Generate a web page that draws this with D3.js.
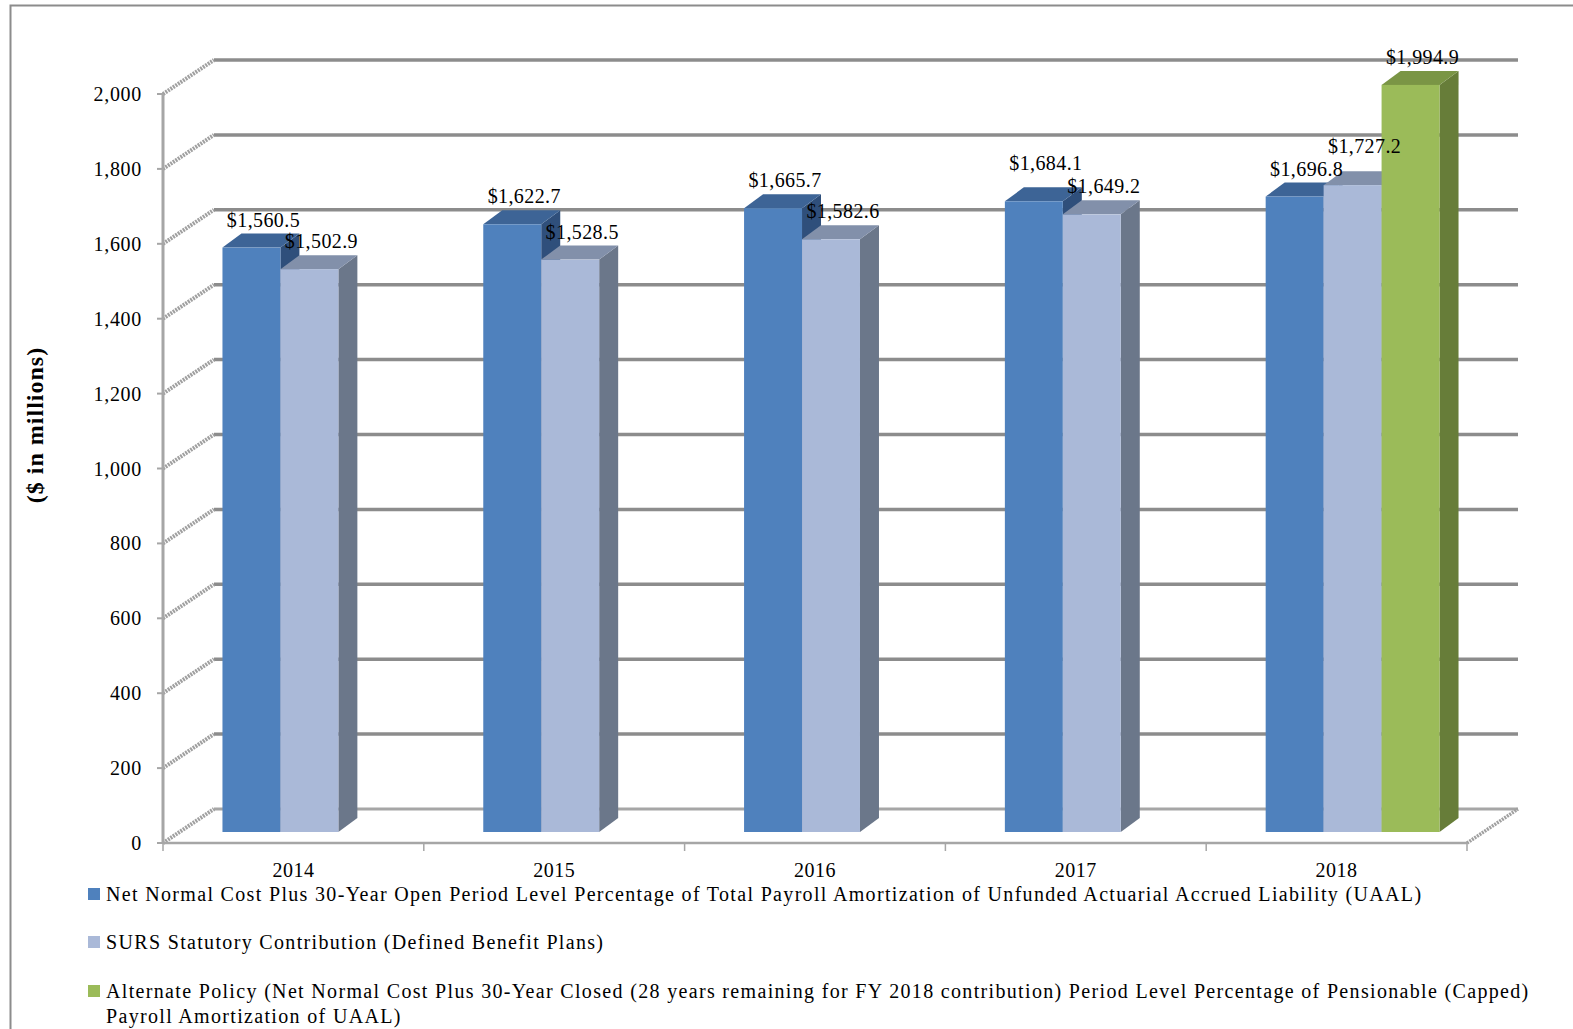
<!DOCTYPE html>
<html>
<head>
<meta charset="utf-8">
<script src="https://cdn.jsdelivr.net/npm/d3@7"></script>
<style>
  html, body { margin: 0; padding: 0; background: #fff; }
  svg { display: block; font-family: "Liberation Serif", "Times New Roman", serif; }
</style>
</head>
<body>
<svg id="chart" width="1573" height="1029"></svg>
<script>
// Contribution projections, $ in millions
const years = ["2014", "2015", "2016", "2017", "2018"];
const seriesKeys = ["open", "statutory", "alternate"];
const openPeriod = [1560.5, 1622.7, 1665.7, 1684.1, 1696.8];
const statutory = [1502.9, 1528.5, 1582.6, 1649.2, 1727.2];
const alternate = [null, null, null, null, 1994.9];
const yTicks = [0, 200, 400, 600, 800, 1000, 1200, 1400, 1600, 1800, 2000];
const legendLabels = [
  ["Net Normal Cost Plus 30-Year Open Period Level Percentage of Total Payroll Amortization of Unfunded Actuarial Accrued Liability (UAAL)"],
  ["SURS Statutory Contribution (Defined Benefit Plans)"],
  ["Alternate Policy (Net Normal Cost Plus 30-Year Closed (28 years remaining for FY 2018 contribution) Period Level Percentage of Pensionable (Capped)",
   "Payroll Amortization of UAAL)"]
];

const seriesValues = { open: openPeriod, statutory: statutory, alternate: alternate };
const palette = {
  open:      { front: "#4f81bd", top: "#3d6496", side: "#2f4f7b" },
  statutory: { front: "#aab9d8", top: "#8290aa", side: "#6b778a" },
  alternate: { front: "#9bbb59", top: "#7a9545", side: "#677d39" }
};

const svg = d3.select("#chart");

// plot frame (front plane) and oblique projection offsets
const plotLeft = 163, plotRight = 1467, plotBottom = 843, plotTop = 94;
const wall = { dx: 51, dy: -34 };     // back wall offset
const barShift = { dx: 16, dy: -11 }; // front face of the bars
const barDepth = { dx: 19, dy: -14 }; // thickness of each bar

const y = d3.scaleLinear().domain([0, 2000]).range([plotBottom, plotTop]);
const x = d3.scaleBand().domain(years).range([plotLeft, plotRight]);
const xs = d3.scaleBand().domain(seriesKeys).range([0, x.bandwidth()]).paddingOuter(0.75).paddingInner(0);

// outer border
svg.append("path")
  .attr("d", `M10.5,1029 V5.5 H1573`)
  .attr("fill", "none").attr("stroke", "#8c8c8c").attr("stroke-width", 2);

// back wall gridlines
const grid = svg.append("g");
grid.selectAll("line.grid").data(yTicks).join("line").attr("class", "grid")
  .attr("x1", plotLeft + wall.dx).attr("x2", plotRight + wall.dx)
  .attr("y1", d => y(d) + wall.dy).attr("y2", d => y(d) + wall.dy)
  .attr("stroke", d => d === 0 ? "#a6a6a6" : "#8c8c8c")
  .attr("stroke-width", d => d === 0 ? 3 : 3.5);

// left wall edges
grid.selectAll("line.wall").data(yTicks).join("line").attr("class", "wall")
  .attr("x1", plotLeft).attr("y1", d => y(d))
  .attr("x2", plotLeft + wall.dx).attr("y2", d => y(d) + wall.dy)
  .attr("stroke", "#a0a0a0").attr("stroke-width", 4)
  .attr("stroke-dasharray", "2,1");

// floor right edge
grid.append("line")
  .attr("x1", plotRight).attr("y1", plotBottom)
  .attr("x2", plotRight + wall.dx).attr("y2", plotBottom + wall.dy)
  .attr("stroke", "#a0a0a0").attr("stroke-width", 3.5)
  .attr("stroke-dasharray", "2,1");

// value axis
const yAxis = svg.append("g");
yAxis.append("line")
  .attr("x1", plotLeft).attr("x2", plotLeft).attr("y1", y(2000)).attr("y2", y(0))
  .attr("stroke", "#a6a6a6").attr("stroke-width", 3);
yAxis.selectAll("line.tick").data(yTicks).join("line").attr("class", "tick")
  .attr("x1", plotLeft - 6).attr("x2", plotLeft)
  .attr("y1", d => y(d)).attr("y2", d => y(d))
  .attr("stroke", "#a6a6a6").attr("stroke-width", 2);
yAxis.selectAll("text").data(yTicks).join("text")
  .attr("x", 142).attr("y", d => y(d))
  .attr("dy", "0.35em").attr("text-anchor", "end")
  .attr("font-size", 20).attr("letter-spacing", 0.7).attr("fill", "#000")
  .text(d => d3.format(",")(d));

// category axis
const xAxis = svg.append("g");
xAxis.append("line")
  .attr("x1", plotLeft).attr("x2", plotRight).attr("y1", plotBottom).attr("y2", plotBottom)
  .attr("stroke", "#a6a6a6").attr("stroke-width", 2.5);
const bounds = years.map(d => x(d)).concat([plotRight]);
xAxis.selectAll("line.tick").data(bounds).join("line").attr("class", "tick")
  .attr("x1", d => d).attr("x2", d => d)
  .attr("y1", plotBottom).attr("y2", plotBottom + 8)
  .attr("stroke", "#a6a6a6").attr("stroke-width", 1.5);
xAxis.selectAll("text").data(years).join("text")
  .attr("x", d => x(d) + x.bandwidth() / 2).attr("y", 870)
  .attr("dy", "0.35em")
  .attr("text-anchor", "middle").attr("font-size", 20).attr("letter-spacing", 0.5).attr("fill", "#000")
  .text(d => d);

// axis title
svg.append("text")
  .attr("transform", "translate(43,425) rotate(-90)")
  .attr("text-anchor", "middle")
  .attr("font-size", 24).attr("font-weight", "bold").attr("letter-spacing", 1)
  .text("($ in millions)");

// bars
const barData = [];
years.forEach((yr, i) => {
  seriesKeys.forEach(k => {
    const v = seriesValues[k][i];
    if (v != null) barData.push({ year: yr, key: k, value: v });
  });
});

const bars = svg.append("g");
const dxB = barDepth.dx, dyB = barDepth.dy;
barData.forEach(d => {
  const x0 = x(d.year) + xs(d.key) + barShift.dx;
  const x1 = x0 + xs.bandwidth();
  const yb = y(0) + barShift.dy;
  const yt = y(d.value) + barShift.dy;
  const c = palette[d.key];
  const g = bars.append("g");
  // side face
  g.append("path")
    .attr("d", `M${x1},${yb} L${x1 + dxB},${yb + dyB} L${x1 + dxB},${yt + dyB} L${x1},${yt} Z`)
    .attr("fill", c.side);
  // top face
  g.append("path")
    .attr("d", `M${x0},${yt} L${x0 + dxB},${yt + dyB} L${x1 + dxB},${yt + dyB} L${x1},${yt} Z`)
    .attr("fill", c.top);
  // front face
  g.append("rect")
    .attr("x", x0).attr("y", yt).attr("width", xs.bandwidth()).attr("height", yb - yt)
    .attr("fill", c.front);
});

// value labels: placed above each bar, then nudged upward when a
// neighbouring label in the same year would overlap
const fmt = d3.format(",.1f");
const labelW = 74, labelH = 19;
const labels = barData.map(d => ({
  ...d,
  lx: x(d.year) + xs(d.key) + barShift.dx + xs.bandwidth() / 2 + 12,
  ly: y(d.value) + barShift.dy - 21
}));
years.forEach(yr => {
  const group = labels.filter(l => l.year === yr);
  for (let i = 1; i < group.length; i++) {
    const a = group[i - 1], b = group[i];
    if (Math.abs(a.lx - b.lx) < labelW && Math.abs(a.ly - b.ly) < labelH) {
      if (b.ly <= a.ly) b.ly = a.ly - labelH - 4;
      else a.ly = b.ly - labelH - 4;
    }
  }
});
svg.append("g").selectAll("text").data(labels).join("text")
  .attr("x", d => d.lx)
  .attr("y", d => d.ly)
  .attr("text-anchor", "middle").attr("font-size", 20).attr("letter-spacing", 0.4).attr("fill", "#000")
  .text(d => "$" + fmt(d.value));

// legend
const legend = svg.append("g").attr("transform", "translate(88,0)");
const legendY = [894, 942, 991];
legendLabels.forEach((lines, i) => {
  const k = seriesKeys[i];
  legend.append("rect")
    .attr("x", 0).attr("y", legendY[i] - 6).attr("width", 12).attr("height", 12)
    .attr("fill", palette[k].front);
  lines.forEach((t, j) => {
    legend.append("text")
      .attr("x", 18).attr("y", legendY[i] + j * 25).attr("dy", "0.35em")
      .attr("font-size", 20).attr("letter-spacing", 1.33).attr("fill", "#000")
      .text(t);
  });
});
</script>
</body>
</html>
